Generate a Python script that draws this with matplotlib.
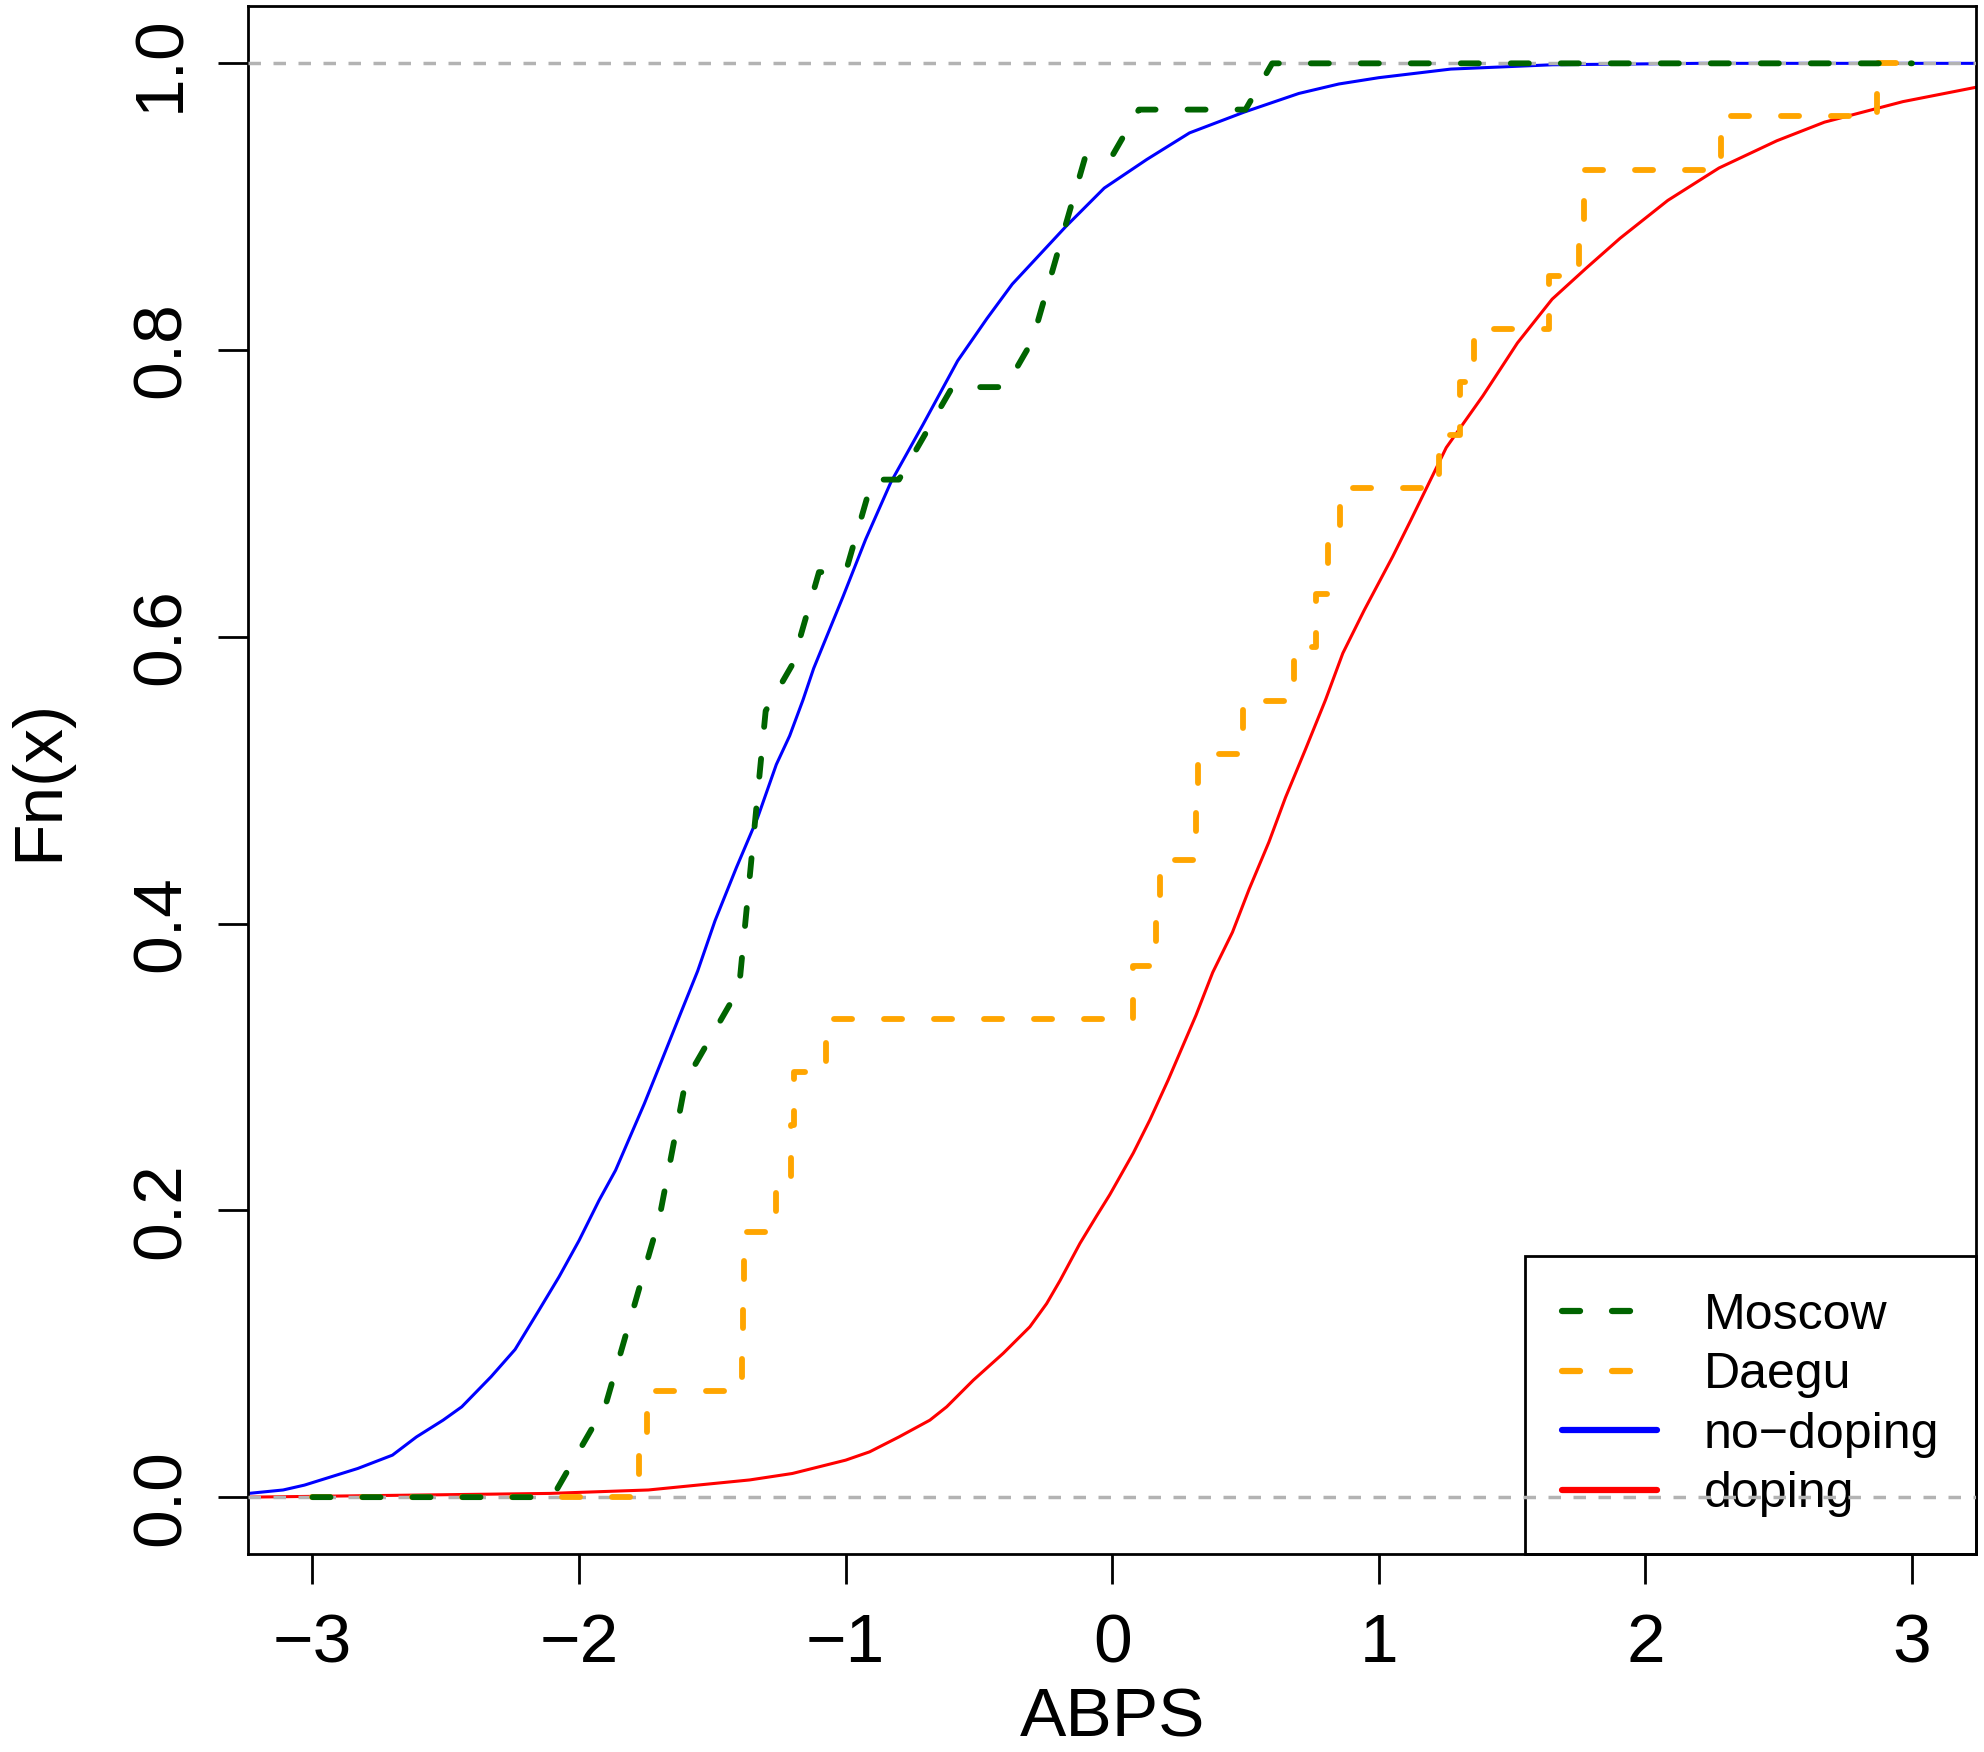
import numpy as np
import matplotlib
matplotlib.use("Agg")
import matplotlib.pyplot as plt
from matplotlib.lines import Line2D

plt.rcParams['font.family'] = ['Liberation Sans', 'DejaVu Sans']
plt.rcParams['lines.scale_dashes'] = False

# Moscow sample (n = 31), values read from the step heights of the dashed curve
moscow = [-2.03, -1.94, -1.87, -1.82, -1.77, -1.72, -1.68, -1.65, -1.62,
          -1.56, -1.43, -1.39, -1.37, -1.35, -1.34, -1.32, -1.31, -1.24,
          -1.17, -1.13, -0.96, -0.92, -0.74, -0.66, -0.34, -0.27, -0.23,
          -0.17, -0.12, 0.06, 0.57]
# Daegu sample (n = 27)
daegu = [-1.775, -1.745, -1.39, -1.385, -1.38, -1.263, -1.205, -1.195,
         -1.072, 0.077, 0.164, 0.18, 0.314, 0.32, 0.49, 0.683, 0.766, 0.808,
         0.855, 1.224, 1.305, 1.358, 1.64, 1.752, 1.768, 2.285, 2.867]
# Moscow ecdf was evaluated on a 0.1 grid and joined by lines
grid = np.round(np.arange(-30, 31) / 10, 1)
x_from, x_to = -3, 3

# large reference samples
nodop_x = [-3.24, -3.11, -3.03, -2.93, -2.83, -2.70, -2.61, -2.51, -2.44,
           -2.33, -2.24, -2.15, -2.075, -2.0, -1.925, -1.863, -1.755, -1.69,
           -1.62, -1.555, -1.49, -1.41, -1.33, -1.26, -1.21, -1.16, -1.12,
           -1.01, -0.925, -0.83, -0.71, -0.58, -0.47, -0.375, -0.27, -0.175,
           -0.03, 0.13, 0.29, 0.495, 0.70, 0.85, 1.0, 1.27, 1.65, 2.2, 3.24]
nodop_y = [0.0026, 0.005, 0.0084, 0.0142, 0.020, 0.0293, 0.042, 0.0537,
           0.063, 0.084, 0.103, 0.1305, 0.1537, 0.179, 0.207, 0.228, 0.2745,
           0.3045, 0.337, 0.367, 0.402, 0.439, 0.474, 0.511, 0.531, 0.556,
           0.578, 0.628, 0.668, 0.708, 0.748, 0.7925, 0.822, 0.846, 0.867,
           0.886, 0.913, 0.933, 0.9515, 0.966, 0.979, 0.9856, 0.99, 0.996,
           0.999, 1.0, 1.0]
dop_x = [-3.24, -2.11, -1.74, -1.36, -1.2, -1.0, -0.91, -0.80, -0.684,
         -0.621, -0.521, -0.409, -0.309, -0.246, -0.196, -0.121, -0.059,
         -0.009, 0.079, 0.141, 0.21, 0.314, 0.377, 0.451, 0.5135, 0.588,
         0.65, 0.725, 0.80, 0.865, 0.945, 1.052, 1.119, 1.253, 1.39, 1.52,
         1.65, 1.777, 1.905, 2.084, 2.276, 2.493, 2.672, 2.966, 3.24]
dop_y = [0.0, 0.0026, 0.005, 0.012, 0.0165, 0.0258, 0.0316, 0.042, 0.0537,
         0.063, 0.0816, 0.1003, 0.1188, 0.135, 0.151, 0.177, 0.196, 0.211,
         0.240, 0.263, 0.291, 0.336, 0.366, 0.394, 0.424, 0.457, 0.488,
         0.5216, 0.556, 0.5886, 0.6185, 0.656, 0.681, 0.732, 0.768, 0.805,
         0.8355, 0.857, 0.878, 0.9044, 0.927, 0.946, 0.959, 0.9733, 0.9833]

xticks = [-3, -2, -1, 0, 1, 2, 3]
yticks = [0.0, 0.2, 0.4, 0.6, 0.8, 1.0]
names = ["Moscow", "Daegu", "no\u2212doping", "doping"]
colors = ["#006400", "#FFA500", "#0000FF", "#FF0000"]

dash = (0, (13.0, 23.0))
lw_step = 4.2
lw_curve = 2.2

fig = plt.figure(figsize=(19.84, 17.52), dpi=100)
ax = fig.add_axes([0.12525, 0.11273, 0.8707, 0.88385])

# smooth ecdfs
ax.plot(nodop_x, nodop_y, color=colors[2], lw=lw_curve, zorder=2)
ax.plot(dop_x, dop_y, color=colors[3], lw=lw_curve, zorder=2)

# 0 and 1 guide lines
for h in [0, 1]:
    ax.axhline(h, color="#B3B3B3", lw=2.5, ls=(0, (9, 9)), zorder=3)

# Daegu step ecdf
ds = np.sort(daegu)
n_d = len(ds)
sx = np.r_[x_from, ds, x_to]
sy = np.r_[0, np.arange(1, n_d + 1) / n_d, 1]
ax.step(sx, sy, where="post", color=colors[1], lw=lw_step, ls=dash,
        dash_capstyle="round", zorder=4)

# Moscow ecdf on grid
ms = np.sort(moscow)
fm = np.searchsorted(ms, grid, side="right") / len(ms)
ax.plot(grid, fm, color=colors[0], lw=lw_step, ls=dash,
        dash_capstyle="round", zorder=5)

ax.set_xlim(-3.24, 3.24)
ax.set_ylim(-0.04, 1.04)
ax.set_xticks(xticks)
ax.set_xticklabels(["\u2212%d" % -t if t < 0 else "%d" % t for t in xticks])
ax.set_yticks(yticks)
ax.set_yticklabels(["%.1f" % t for t in yticks], rotation=90, va="center")

for s in ax.spines.values():
    s.set_linewidth(2.0)
ax.tick_params(length=21.6, width=2.0, labelsize=50)
ax.tick_params(axis="x", pad=20)
ax.tick_params(axis="y", pad=18)

ax.set_xlabel("ABPS", fontsize=50)
ax.xaxis.set_label_coords(0.5, (1554.5 - 1737) / 1548.5)
ax.xaxis.label.set_va("baseline")
ax.set_ylabel("Fn(x)", fontsize=50)
ax.yaxis.set_label_coords((57 - 248.5) / 1727.5, 0.5)
ax.yaxis.label.set_va("baseline")

handles = [
    Line2D([], [], color=colors[0], lw=4.5, ls=dash, dash_capstyle="round"),
    Line2D([], [], color=colors[1], lw=4.5, ls=dash, dash_capstyle="round"),
    Line2D([], [], color=colors[2], lw=4.5, solid_capstyle="round"),
    Line2D([], [], color=colors[3], lw=4.5, solid_capstyle="round"),
]
leg = ax.legend(handles, names, loc="lower right", fontsize=36,
                handlelength=1.9, handletextpad=0.92, labelspacing=0.27,
                borderpad=0.74, borderaxespad=0, fancybox=False,
                framealpha=1, facecolor="none", edgecolor="black")
leg.get_frame().set_linewidth(2.0)
leg.set_zorder(2.5)

fig.savefig("out.png", dpi=100)
